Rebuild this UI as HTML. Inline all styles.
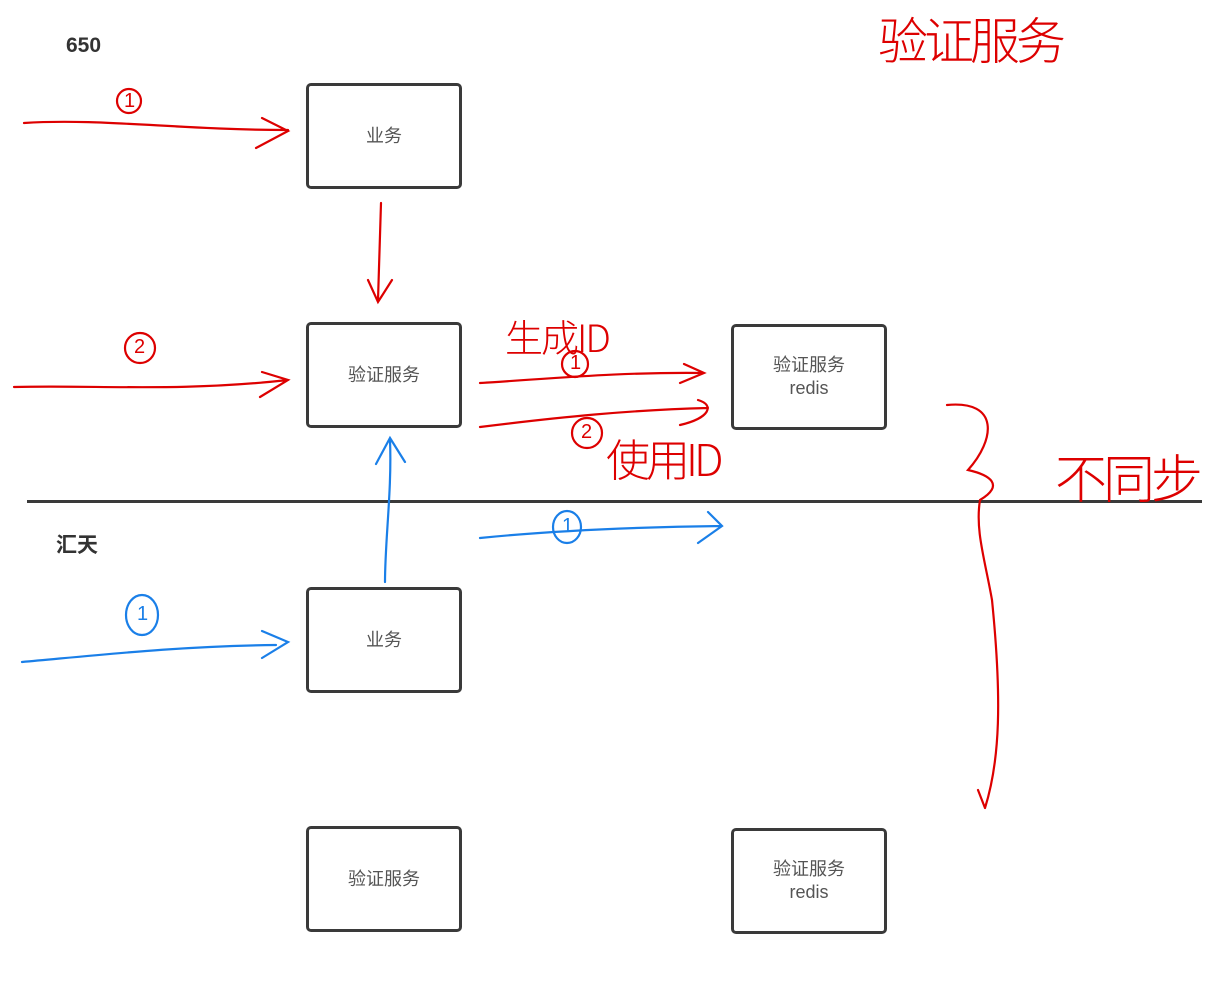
<!DOCTYPE html>
<html><head><meta charset="utf-8"><style>
html,body{margin:0;padding:0;background:#fff;width:1211px;height:1000px;overflow:hidden;position:relative;font-family:"Liberation Sans","Noto Sans CJK SC",sans-serif}
.b{position:absolute;border:3px solid #3a3a3a;border-radius:5px;box-sizing:border-box;display:flex;align-items:center;justify-content:center;text-align:center;font-size:18px;color:#555;line-height:23px;background:#fff}
.t{position:absolute;font-weight:bold;font-size:21px;color:#333}
.h{position:absolute;color:#d00;font-family:"Noto Sans CJK SC",sans-serif;font-weight:300}
.n{position:absolute;font-size:20px;font-family:"Liberation Sans",sans-serif}
</style></head><body>
<div class="t" style="left:66px;top:34px">650</div>
<div class="t" style="left:56px;top:529px">汇天</div>
<div class="b" style="left:306px;top:83px;width:156px;height:106px">业务</div>
<div class="b" style="left:306px;top:322px;width:156px;height:106px">验证服务</div>
<div class="b" style="left:731px;top:324px;width:156px;height:106px">验证服务<br>redis</div>
<div class="b" style="left:306px;top:587px;width:156px;height:106px">业务</div>
<div class="b" style="left:306px;top:826px;width:156px;height:106px">验证服务</div>
<div class="b" style="left:731px;top:828px;width:156px;height:106px">验证服务<br>redis</div>
<div style="position:absolute;left:27px;top:500px;width:1175px;height:3px;background:#3a3a3a"></div>
<svg width="1211" height="1000" style="position:absolute;left:0;top:0" fill="none" stroke-width="2.2" stroke-linecap="round">
<g stroke="#d00">
<path d="M24 123 C100 118 180 130 288 130 M262 118 L288 131 L256 148"/>
<path d="M381 203 L378 300 M368 280 L378 302 L392 280"/>
<path d="M14 387 C100 385 180 392 288 380 M262 372 L288 380 L260 397"/>
<path d="M480 383 C560 378 620 372 704 373 M684 364 L704 373 L680 383"/>
<path d="M480 427 C560 417 630 410 708 408 M698 400 C715 405 710 418 680 425"/>
<circle cx="575" cy="364" r="13"/><circle cx="587" cy="433" r="15"/>
<circle cx="140" cy="348" r="15"/><circle cx="129" cy="101" r="12"/>
<path d="M947 405 C1000 400 995 440 968 470 C990 475 1005 485 980 500 C975 530 985 560 992 600 C1002 700 1000 760 985 808 M978 790 L985 808"/>
</g>
<g stroke="#1a7fe8">
<path d="M22 662 C100 655 180 646 276 645 M262 631 L288 642 L262 658"/>
<path d="M385 582 C385 540 392 490 390 440 M376 464 L390 438 L405 462"/>
<path d="M480 538 C560 530 640 527 722 526 M708 512 L722 526 L698 543"/>
<ellipse cx="567" cy="527" rx="14" ry="16"/><ellipse cx="142" cy="615" rx="16" ry="20"/>
</g>
</svg>
<div class="n" style="left:124px;top:90px;color:#d00">1</div>
<div class="n" style="left:134px;top:336px;color:#d00">2</div>
<div class="n" style="left:570px;top:352px;color:#d00">1</div>
<div class="n" style="left:581px;top:421px;color:#d00">2</div>
<div class="n" style="left:562px;top:515px;color:#1a7fe8">1</div>
<div class="n" style="left:137px;top:603px;color:#1a7fe8">1</div>
<div class="h" style="left:878px;top:2px;font-size:50px;letter-spacing:-4px;font-weight:200">验证服务</div>
<div class="h" style="left:505px;top:308px;font-size:38px;letter-spacing:-2px;font-weight:200">生成ID</div>
<div class="h" style="left:606px;top:425px;font-size:44px;letter-spacing:-4px;font-weight:200">使用ID</div>
<div class="h" style="left:1055px;top:438px;font-size:52px;letter-spacing:-4px;font-weight:200">不同步</div>
</body></html>
